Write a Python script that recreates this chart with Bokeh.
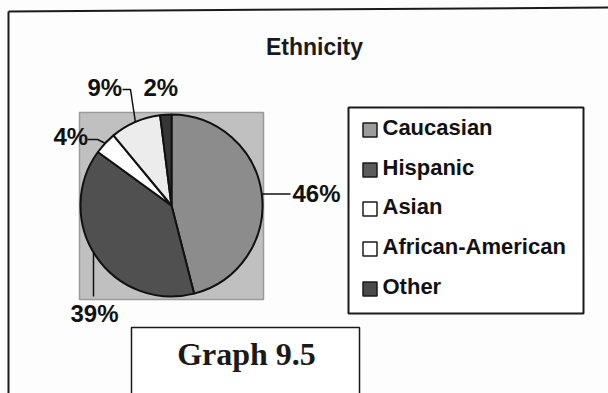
import math
from bokeh.plotting import figure
from bokeh.models import ColumnDataSource
from bokeh.core.properties import value
from bokeh.embed import file_html
from bokeh.resources import INLINE

# --- data ---
categories = ["Caucasian", "Hispanic", "Asian", "African-American", "Other"]
percents = [46, 39, 4, 9, 2]
slice_colors = ["#8c8c8c", "#505050", "#ffffff", "#ececec", "#363636"]
swatch_colors = ["#9c9c9c", "#5c5c5c", "#ffffff", "#ffffff", "#4a4a4a"]
title_text = "Ethnicity"
caption_text = "Graph 9.5"

W, H = 608, 393

p = figure(width=W, height=H, x_range=(0, W), y_range=(0, H),
           output_backend="svg", toolbar_location=None,
           min_border=0, outline_line_color=None,
           background_fill_color="#fdfdfd", border_fill_color="#fdfdfd")
p.axis.visible = False
p.grid.visible = False


def Y(y):
    # page coordinates are measured from the top
    return H - y


def TY(baseline, size):
    # place a text so that its baseline lands on the given page row
    return Y(baseline - 0.43 * size)


SANS = value("Liberation Sans")

# outer frame (left and top edges; the rest runs off the page)
p.line([8, 8], [Y(11), Y(400)], line_color="#1a1a1a", line_width=2)
p.line([8, 608], [Y(11), Y(7)], line_color="#1a1a1a", line_width=2)

# title
p.text(x=[314], y=[TY(56, 23)], text=[title_text], text_font=SANS,
       text_font_style="bold", text_font_size="23px", text_color="#1a1a1a",
       text_align="center", text_baseline="alphabetic")

# plot area behind the pie
p.quad(left=[79], right=[263], top=[Y(112)], bottom=[Y(299)],
       fill_color="#c0c0c0", line_color="#9a9a9a", line_width=1.5)

# pie: starts at 12 o'clock and runs clockwise
cx, cy, r = 171, Y(205), 91
total = sum(percents)
cum = [0]
for v in percents:
    cum.append(cum[-1] + v / total)
starts = [math.pi / 2 - 2 * math.pi * cum[i + 1] for i in range(len(percents))]
ends = [math.pi / 2 - 2 * math.pi * cum[i] for i in range(len(percents))]
src = ColumnDataSource(dict(start=starts, end=ends, color=slice_colors))
p.wedge(x=cx, y=cy, radius=r, start_angle="start", end_angle="end",
        direction="anticlock", fill_color="color", line_color="#111111",
        line_width=2, source=src)


def rim(i):
    mid = math.pi / 2 - 2 * math.pi * (cum[i] + cum[i + 1]) / 2
    return cx + r * math.cos(mid), cy + r * math.sin(mid)


# percentage labels with leader lines
lbl = [f"{v}%" for v in percents]
lab_pos = {0: (292, 203), 1: (70, 323), 2: (53, 146), 3: (87, 97), 4: (143, 97)}
for i, (lx, ly) in lab_pos.items():
    p.text(x=[lx], y=[TY(ly, 24)], text=[lbl[i]], text_font=SANS,
           text_font_style="bold", text_font_size="24px", text_color="#111111",
           text_align="left", text_baseline="alphabetic")

lc = dict(line_color="#111111", line_width=1.5)
x0, y0 = rim(0)
p.line([x0, 290], [y0, y0], **lc)
# 39%: vertical leader dropping from the lower-left rim
lx39 = 93
p.line([lx39, lx39], [cy - math.sqrt(r * r - (cx - lx39) ** 2), Y(296)], **lc)
x2, y2 = rim(2)
p.line([87, 97, x2], [Y(139), Y(139), y2], **lc)
x3, y3 = rim(3)
p.line([122, 130, x3], [Y(89), Y(89), y3], **lc)

# legend box
p.quad(left=[348], right=[583], top=[Y(107)], bottom=[Y(313)],
       fill_color="#ffffff", line_color="#1a1a1a", line_width=2)
row_base = [136, 176, 215, 255, 295]
leg = ColumnDataSource(dict(
    x=[369.5] * len(categories),
    y=[Y(b - 6.5) for b in row_base],
    tx=[382] * len(categories),
    ty=[TY(b, 22) for b in row_base],
    label=categories, color=swatch_colors))
p.rect(x="x", y="y", width=14, height=14, fill_color="color",
       line_color="#1a1a1a", line_width=1.5, source=leg)
p.text(x="tx", y="ty", text="label", text_font=SANS, text_font_style="bold",
       text_font_size="22px", text_color="#111111", text_align="left",
       text_baseline="alphabetic", source=leg)

# caption box
p.quad(left=[131], right=[359], top=[Y(327)], bottom=[Y(400)],
       fill_color="#ffffff", line_color="#1a1a1a", line_width=1.5)
p.text(x=[246], y=[TY(367, 32)], text=[caption_text],
       text_font=value("Liberation Serif"), text_font_style="bold",
       text_font_size="32px", text_color="#1a1a1a", text_align="center",
       text_baseline="alphabetic")

open("out.html", "w").write(file_html(p, INLINE))
